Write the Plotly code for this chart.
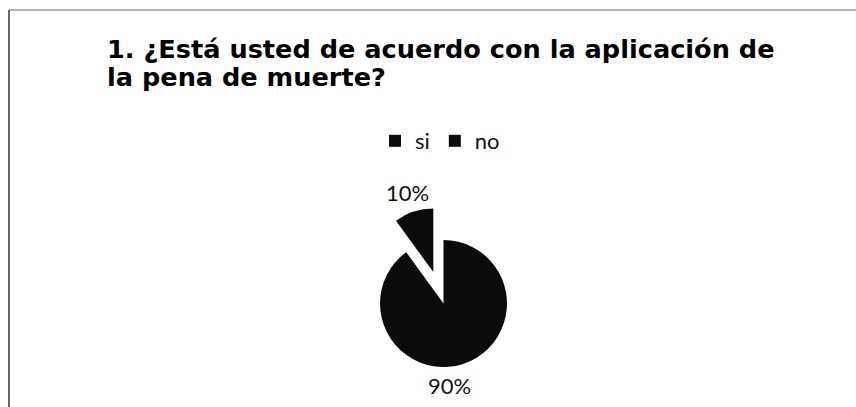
import plotly.graph_objects as go

# Survey answers for question 1
labels = ["si", "no"]
values = [10, 90]
pulls = [0.52, 0.0]
colors = ["#0b0b0b", "#0b0b0b"]

title_lines = [
    "1. ¿Está usted de acuerdo con la aplicación de",
    "la pena de muerte?",
]

W, H = 856, 407

fig = go.Figure()

fig.add_trace(go.Pie(
    labels=labels,
    values=values,
    pull=pulls,
    sort=False,
    direction="clockwise",
    rotation=-36,
    marker=dict(colors=colors, line=dict(width=0)),
    textinfo="none",
    hoverinfo="label+percent",
    domain=dict(x=[347 / W, 540 / W], y=[7 / H, 200 / H]),
))

# percentage labels next to each slice
total = sum(values)
label_pos = [(407.5, 192), (449.5, 385)]
annotations = []
for v, (px, py) in zip(values, label_pos):
    annotations.append(dict(
        text=f"{round(100 * v / total)}%",
        x=px / W, y=1 - py / H, xref="paper", yref="paper",
        xanchor="center", yanchor="middle", showarrow=False,
        font=dict(family="Lato", size=22, color="#111"),
    ))

# two-line bold heading
for i, line in enumerate(title_lines):
    annotations.append(dict(
        text=f"<b>{line}</b>",
        x=105 / W, y=1 - (48.5 + 28.5 * i) / H, xref="paper", yref="paper",
        xanchor="left", yanchor="middle", showarrow=False,
        font=dict(family="DejaVu Sans", size=25.6, color="#000"),
    ))

fig.update_layout(
    width=W, height=H,
    margin=dict(l=0, r=0, t=0, b=0),
    paper_bgcolor="white",
    plot_bgcolor="white",
    annotations=annotations,
    showlegend=True,
    legend=dict(
        orientation="h",
        x=440 / W, xanchor="center",
        y=1 - 141 / H, yanchor="middle",
        font=dict(family="Lato", size=22, color="#111"),
        bgcolor="rgba(0,0,0,0)",
        itemclick=False, itemdoubleclick=False,
    ),
    shapes=[
        dict(type="line", xref="paper", yref="paper",
             x0=9 / W, x1=1, y0=1 - 10 / H, y1=1 - 10 / H,
             line=dict(color="#666", width=1.2)),
        dict(type="line", xref="paper", yref="paper",
             x0=9 / W, x1=9 / W, y0=0, y1=1 - 10 / H,
             line=dict(color="#333", width=1.5)),
    ],
)

fig.write_html("out.html")
